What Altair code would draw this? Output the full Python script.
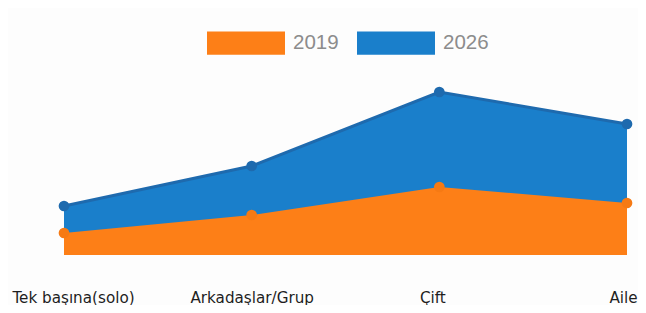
import altair as alt
import pandas as pd

categories = ["Tek başına(solo)", "Arkadaşlar/Grup", "Çift", "Aile"]
v2019 = [22, 40, 68, 52]
v2026 = [49, 89, 163, 131]
series = ["2019", "2026"]

rows = []
for s, vals in zip(series, [v2019, v2026]):
    for c, v in zip(categories, vals):
        rows.append({"cat": c, "val": v, "series": s})
df = pd.DataFrame(rows)

ORANGE = "#FD7F17"
BLUE = "#1A7FCB"
BLUE_DARK = "#1E6AAE"
ORANGE_DARK = "#F67A14"

x = alt.X(
    "cat:N",
    sort=categories,
    scale=alt.Scale(padding=0),
    axis=alt.Axis(
        title=None, domain=False, ticks=False, grid=False, labelAngle=0,
        labelFont="DejaVu Sans", labelFontSize=15.2, labelColor="#1e1e1e",
        labelPadding=35, labelOverlap=False, labelLimit=0,
        labelOffset={"condition": [
            {"test": "datum.value === 'Tek başına(solo)'", "value": 9},
            {"test": "datum.value === 'Çift'", "value": -7},
            {"test": "datum.value === 'Aile'", "value": -4}], "value": 0},
    ),
)
y = alt.Y("val:Q", scale=alt.Scale(domain=[0, 175], nice=False, zero=True), axis=None, stack=None)
color = alt.Color(
    "series:N",
    scale=alt.Scale(domain=series, range=[ORANGE, BLUE]),
    legend=alt.Legend(
        orient="none", legendX=143, legendY=-76, direction="horizontal", title=None,
        symbolType="M-1,-0.3H1V0.3H-1Z", symbolSize=6084, symbolStrokeWidth=0,
        symbolOpacity=1, labelFont="Liberation Sans", labelFontSize=20.5,
        labelColor="#8c8c8c", labelOffset=8, columnPadding=18,
    ),
)

base = alt.Chart(df)
blue = base.transform_filter(alt.datum.series == "2026")
orange = base.transform_filter(alt.datum.series == "2019")

blue_area = blue.mark_area(opacity=1).encode(x=x, y=y, color=color)
blue_line = blue.mark_line(color=BLUE_DARK, strokeWidth=3).encode(x=x, y=y)
blue_pts = blue.mark_circle(color=BLUE_DARK, size=115, opacity=1).encode(x=x, y=y)
orange_area = orange.mark_area(opacity=1).encode(x=x, y=y, color=color)
orange_pts = orange.mark_circle(color=ORANGE_DARK, size=115, opacity=1).encode(x=x, y=y)

chart = alt.layer(blue_area, blue_line, blue_pts, orange_area, orange_pts).properties(
    width=563, height=175,
    padding={"left": 56, "top": 72, "right": 11, "bottom": 50},
    autosize="none",
    background="#fdfdfd",
).configure_view(stroke=None, strokeWidth=0)

chart.save("out.html", embed_options={"renderer": "svg", "actions": False})
